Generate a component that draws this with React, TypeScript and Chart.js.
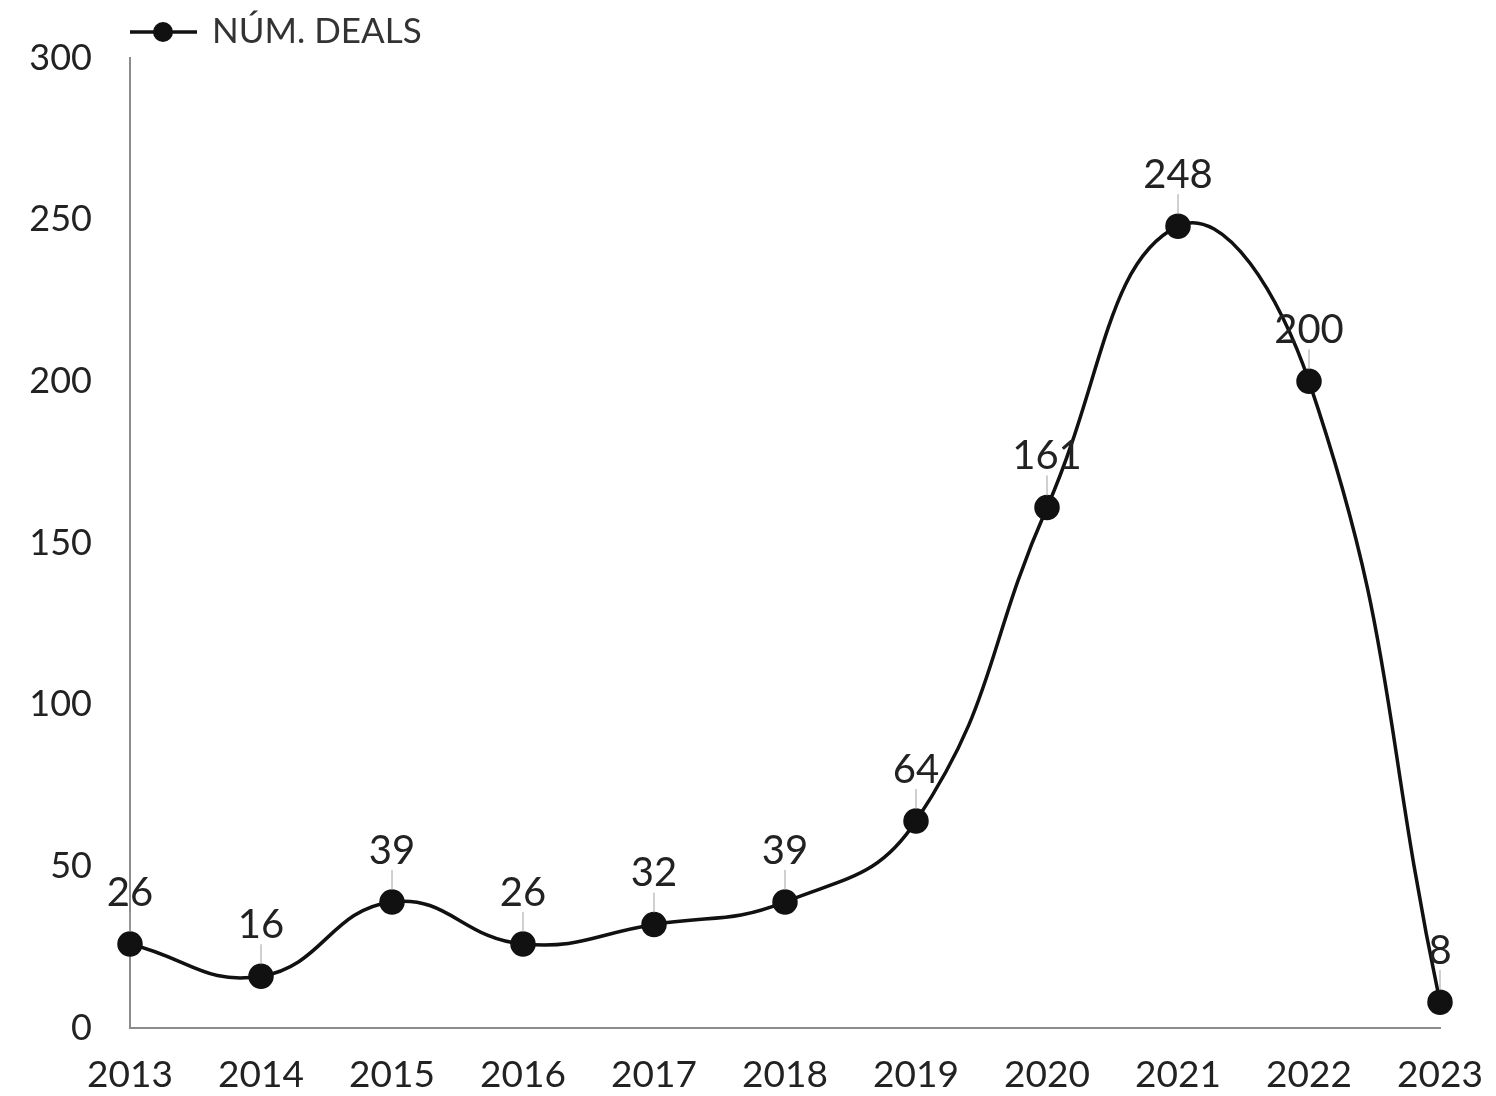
import React, { useEffect, useRef } from "react";
import { Chart, registerables } from "chart.js";

Chart.register(...registerables);

const categories = ["2013", "2014", "2015", "2016", "2017", "2018", "2019", "2020", "2021", "2022", "2023"];
const dealValues = [26, 16, 39, 26, 32, 39, 64, 161, 248, 200, 8];
const seriesLabel = "NÚM. DEALS";
const yTicks = [0, 50, 100, 150, 200, 250, 300];

const FONT = "Lato, 'Open Sans', sans-serif";

const dataLabelPlugin = {
  id: "dataLabels",
  afterDatasetsDraw(chart: any) {
    const ctx = chart.ctx;
    const meta = chart.getDatasetMeta(0);
    const data = chart.data.datasets[0].data;
    ctx.save();
    meta.data.forEach((pt: any, i: number) => {
      const x = pt.x;
      const y = pt.y;
      ctx.strokeStyle = "#a0a0a0";
      ctx.lineWidth = 1;
      ctx.beginPath();
      ctx.moveTo(x, y - 12);
      ctx.lineTo(x, y - 32);
      ctx.stroke();
      ctx.fillStyle = "#222";
      ctx.font = `40px ${FONT}`;
      ctx.textAlign = "center";
      ctx.textBaseline = "middle";
      ctx.fillText(String(data[i]), x, y - 51);
    });
    ctx.restore();
  },
};

const legendPlugin = {
  id: "customLegend",
  afterDraw(chart: any) {
    const ctx = chart.ctx;
    ctx.save();
    const y = 32;
    ctx.strokeStyle = "#111";
    ctx.lineWidth = 3.5;
    ctx.beginPath();
    ctx.moveTo(130, y);
    ctx.lineTo(197, y);
    ctx.stroke();
    ctx.fillStyle = "#111";
    ctx.beginPath();
    ctx.arc(163, y, 10, 0, Math.PI * 2);
    ctx.fill();
    ctx.fillStyle = "#333";
    ctx.font = `35px ${FONT}`;
    ctx.textAlign = "left";
    ctx.textBaseline = "middle";
    ctx.fillText(chart.data.datasets[0].label, 212, y);
    ctx.restore();
  },
};

export default function App() {
  const ref = useRef<HTMLCanvasElement | null>(null);
  useEffect(() => {
    if (!ref.current) return;
    const chart = new Chart(ref.current, {
      type: "line",
      data: {
        labels: categories,
        datasets: [
          {
            label: seriesLabel,
            data: dealValues,
            borderColor: "#111",
            backgroundColor: "#111",
            borderWidth: 3.5,
            pointRadius: 11,
            pointBackgroundColor: "#111",
            pointBorderColor: "#111",
            tension: 0.45,
            fill: false,
          },
        ],
      },
      options: {
        responsive: false,
        animation: false,
        layout: { padding: { top: 58, right: 56, left: 0, bottom: 0 } },
        plugins: {
          legend: { display: false },
          tooltip: { enabled: false },
        },
        scales: {
          x: {
            offset: false,
            grid: { display: false, drawTicks: false },
            border: { display: true, color: "#8c8c8c", width: 2 },
            ticks: {
              color: "#222",
              font: { family: FONT, size: 37 },
              padding: 25,
              maxRotation: 0,
              autoSkip: false,
            },
            afterFit: (scale: any) => {
              scale.height = 68;
              scale.paddingLeft = 0;
              scale.paddingRight = 0;
            },
          },
          y: {
            min: 0,
            max: 300,
            afterBuildTicks: (scale: any) => {
              scale.ticks = yTicks.map((v) => ({ value: v }));
            },
            grid: { display: false, drawTicks: false },
            border: { display: true, color: "#8c8c8c", width: 2 },
            ticks: {
              color: "#222",
              font: { family: FONT, size: 36 },
              padding: 38,
            },
            afterFit: (scale: any) => {
              scale.width = 130;
              scale.paddingTop = 0;
              scale.paddingBottom = 0;
            },
          },
        },
      },
      plugins: [dataLabelPlugin, legendPlugin],
    });
    return () => chart.destroy();
  }, []);
  return (
    <div style={{ position: "fixed", left: 0, top: 0, width: 1496, height: 1096, background: "#fff" }}>
      <canvas ref={ref} width={1496} height={1096} style={{ width: 1496, height: 1096 }} />
    </div>
  );
}
